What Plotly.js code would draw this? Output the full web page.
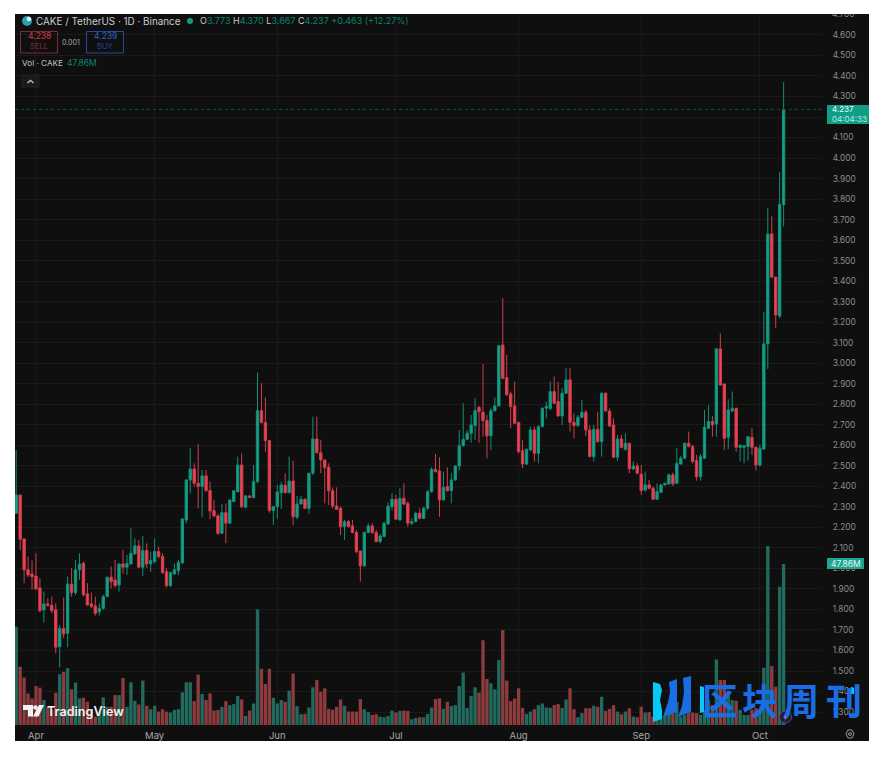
<!DOCTYPE html>
<html>
<head>
<meta charset="utf-8">
<script src="https://cdn.plot.ly/plotly-3.0.1.min.js"></script>
<style>
html,body{margin:0;padding:0;background:#fff;width:890px;height:760px;overflow:hidden}
#panel{position:absolute;left:15px;top:14px;width:854px;height:727px;overflow:hidden;background:#0f0f0f}
</style>
</head>
<body>
<div id="panel"></div>
<script>
const startDate = '2024-03-27';
const monthTicks = ['2024-04-01','2024-05-01','2024-06-01','2024-07-01','2024-08-01','2024-09-01','2024-10-01'];
const monthLabels = ['Apr','May','Jun','Jul','Aug','Sep','Oct'];
const priceTicks = [1.3,1.4,1.5,1.6,1.7,1.8,1.9,2.0,2.1,2.2,2.3,2.4,2.5,2.6,2.7,2.8,2.9,3.0,3.1,3.2,3.3,3.4,3.5,3.6,3.7,3.8,3.9,4.0,4.1,4.2,4.3,4.4,4.5,4.6,4.7];
const lastClose = 4.237;

const openP = [
2.269,2.358,2.144,1.993,1.973,1.963,1.905,1.798,1.827,1.820,
1.798,1.619,1.707,1.684,1.924,1.882,1.993,2.025,1.876,1.827,
1.817,1.789,1.806,1.863,1.957,1.944,1.919,2.022,2.006,2.022,
2.071,2.110,2.006,2.087,2.022,2.033,2.082,2.058,1.984,1.916,
1.973,1.989,2.028,2.236,2.431,2.485,2.415,2.399,2.451,2.379,
2.282,2.256,2.171,2.272,2.220,2.326,2.374,2.504,2.298,2.353,
2.345,2.423,2.769,2.711,2.623,2.282,2.301,2.369,2.405,2.369,
2.426,2.249,2.314,2.337,2.293,2.464,2.631,2.564,2.529,2.493,
2.378,2.304,2.293,2.204,2.228,2.207,2.175,2.085,2.012,2.175,
2.207,2.175,2.131,2.155,2.217,2.301,2.337,2.236,2.342,2.317,
2.220,2.228,2.269,2.244,2.293,2.374,2.483,2.475,2.334,2.399,
2.379,2.431,2.499,2.598,2.629,2.659,2.696,2.785,2.761,2.720,
2.646,2.769,2.792,3.089,2.930,2.850,2.792,2.711,2.573,2.509,
2.577,2.675,2.561,2.691,2.781,2.780,2.862,2.813,2.743,2.854,
2.919,2.712,2.696,2.737,2.761,2.675,2.545,2.678,2.618,2.854,
2.767,2.699,2.542,2.631,2.581,2.610,2.485,2.499,2.460,2.382,
2.407,2.391,2.337,2.371,2.407,2.412,2.456,2.415,2.509,2.537,
2.610,2.594,2.525,2.447,2.537,2.683,2.716,2.704,3.070,2.899,
2.639,2.767,2.780,2.590,2.590,2.594,2.639,2.590,2.504,2.582,
3.094,3.630,3.420,3.230,3.773];
const highP = [
2.577,2.358,2.147,2.058,2.038,2.074,1.952,1.887,1.855,1.863,
1.830,1.724,1.859,1.960,2.001,2.041,2.074,2.033,1.928,1.882,
1.863,1.830,1.871,1.960,2.009,2.041,2.025,2.090,2.066,2.196,
2.147,2.139,2.158,2.122,2.082,2.147,2.106,2.074,2.001,1.984,
2.025,2.041,2.244,2.434,2.586,2.512,2.605,2.480,2.480,2.423,
2.334,2.266,2.314,2.317,2.337,2.382,2.545,2.561,2.358,2.358,
2.504,2.954,2.902,2.834,2.626,2.306,2.407,2.423,2.464,2.545,
2.524,2.353,2.353,2.342,2.467,2.740,2.740,2.626,2.529,2.512,
2.395,2.395,2.301,2.236,2.236,2.236,2.188,2.085,2.179,2.220,
2.220,2.188,2.168,2.228,2.321,2.366,2.358,2.391,2.415,2.326,
2.244,2.277,2.293,2.301,2.382,2.493,2.558,2.542,2.472,2.493,
2.464,2.504,2.675,2.805,2.675,2.748,2.829,2.792,2.997,2.748,
2.781,2.834,3.089,3.317,3.040,2.862,2.911,2.716,2.626,2.584,
2.691,2.691,2.699,2.785,2.813,2.910,2.935,2.910,2.878,2.975,
2.975,2.756,2.748,2.821,2.772,2.699,2.699,2.764,2.857,2.857,
2.780,2.732,2.651,2.651,2.659,2.610,2.521,2.512,2.504,2.472,
2.431,2.399,2.415,2.412,2.418,2.464,2.467,2.586,2.548,2.613,
2.667,2.602,2.553,2.558,2.772,2.797,2.743,3.073,3.146,2.899,
2.824,2.862,2.784,2.605,2.602,2.646,2.683,2.594,2.602,3.250,
3.757,3.717,3.420,3.932,4.370];
const lowP = [
2.265,2.090,1.928,1.957,1.895,1.895,1.785,1.736,1.814,1.781,
1.586,1.518,1.660,1.616,1.863,1.871,1.944,1.863,1.819,1.806,
1.770,1.770,1.798,1.859,1.903,1.908,1.887,1.976,1.968,2.017,
2.066,2.001,1.963,2.001,1.984,2.025,2.049,1.973,1.908,1.911,
1.968,1.968,2.022,2.220,2.366,2.399,2.293,2.249,2.374,2.240,
2.249,2.163,2.168,2.123,2.217,2.326,2.371,2.293,2.293,2.342,
2.342,2.415,2.707,2.569,2.272,2.212,2.240,2.290,2.366,2.366,
2.212,2.240,2.313,2.288,2.266,2.456,2.561,2.464,2.317,2.309,
2.293,2.285,2.163,2.139,2.200,2.171,2.074,1.936,2.009,2.171,
2.168,2.127,2.123,2.152,2.212,2.282,2.236,2.233,2.309,2.204,
2.212,2.225,2.240,2.241,2.285,2.369,2.467,2.252,2.330,2.374,
2.317,2.428,2.477,2.594,2.626,2.613,2.626,2.613,2.642,2.537,
2.577,2.764,2.789,2.922,2.841,2.683,2.704,2.561,2.488,2.504,
2.574,2.521,2.512,2.688,2.732,2.772,2.802,2.740,2.699,2.850,
2.667,2.634,2.691,2.732,2.646,2.542,2.521,2.613,2.545,2.764,
2.691,2.537,2.524,2.586,2.574,2.464,2.480,2.460,2.358,2.374,
2.386,2.334,2.334,2.366,2.404,2.407,2.402,2.412,2.507,2.534,
2.590,2.512,2.428,2.428,2.534,2.680,2.642,2.642,2.891,2.577,
2.582,2.764,2.569,2.521,2.512,2.525,2.553,2.477,2.496,2.578,
2.972,3.416,3.172,3.220,3.667];
const closeP = [
2.358,2.142,1.993,1.968,1.960,1.900,1.794,1.827,1.819,1.794,
1.616,1.708,1.681,1.924,1.882,1.993,2.022,1.871,1.822,1.814,
1.781,1.806,1.863,1.957,1.936,1.916,2.022,2.006,2.025,2.074,
2.110,2.006,2.087,2.022,2.038,2.082,2.058,1.980,1.916,1.980,
1.993,2.030,2.241,2.431,2.485,2.415,2.399,2.451,2.379,2.280,
2.256,2.171,2.272,2.220,2.334,2.378,2.504,2.301,2.353,2.347,
2.423,2.769,2.711,2.623,2.282,2.301,2.373,2.407,2.369,2.426,
2.252,2.314,2.337,2.293,2.464,2.631,2.564,2.529,2.491,2.378,
2.304,2.288,2.204,2.228,2.204,2.175,2.082,2.012,2.175,2.207,
2.175,2.131,2.158,2.220,2.304,2.337,2.240,2.342,2.314,2.220,
2.228,2.269,2.244,2.293,2.374,2.483,2.472,2.334,2.395,2.379,
2.431,2.499,2.598,2.629,2.659,2.699,2.769,2.764,2.720,2.646,
2.769,2.792,3.086,2.927,2.846,2.789,2.707,2.569,2.509,2.581,
2.675,2.561,2.691,2.781,2.789,2.862,2.805,2.743,2.854,2.919,
2.712,2.696,2.737,2.761,2.675,2.545,2.678,2.618,2.854,2.767,
2.694,2.542,2.631,2.590,2.610,2.485,2.499,2.464,2.379,2.407,
2.391,2.337,2.374,2.407,2.415,2.456,2.412,2.512,2.537,2.610,
2.594,2.521,2.447,2.545,2.688,2.716,2.699,3.070,2.894,2.634,
2.772,2.780,2.590,2.600,2.598,2.642,2.590,2.504,2.586,3.094,
3.630,3.420,3.235,3.774,4.237];
const volumeM = [
29.2,17.3,14.1,9.4,7.9,11.6,11.1,7.4,5.4,4.5,
9.6,15.1,15.8,16.9,10.6,12.6,7.9,8.1,6.9,4.5,
2.5,4.0,8.2,5.4,5.4,8.9,8.9,14.0,5.4,12.7,
7.2,6.1,13.2,5.7,4.7,5.7,4.0,4.7,4.0,3.7,
4.5,4.7,9.7,12.7,12.7,7.1,15.0,9.2,7.4,9.4,
4.3,4.5,5.4,7.1,5.9,6.2,8.6,7.6,2.7,4.3,
6.4,34.4,16.7,12.2,16.7,8.1,6.4,7.4,6.9,10.2,
15.3,5.6,3.2,3.3,5.2,11.2,13.4,9.9,10.9,4.8,
4.5,5.4,7.6,5.7,4.0,4.0,4.0,7.7,4.7,3.8,
3.0,3.2,2.5,2.3,2.7,4.3,3.7,4.2,4.3,4.2,
1.7,2.1,2.3,2.3,3.3,5.2,7.7,7.9,4.8,6.9,
5.6,5.9,11.6,15.6,5.1,8.6,11.2,9.6,25.2,13.7,
12.4,10.6,19.3,28.2,13.2,7.1,7.9,10.9,5.1,3.3,
4.0,4.7,5.9,6.4,5.2,5.1,5.9,6.2,5.1,7.6,
10.9,4.7,2.3,3.5,5.0,5.0,5.7,5.4,8.4,4.2,
4.8,5.9,4.0,3.2,4.0,5.0,2.5,2.3,5.4,3.7,
3.8,2.5,2.5,2.5,2.7,3.5,3.5,6.9,2.5,3.0,
3.7,3.7,3.5,3.0,4.5,7.4,5.9,19.5,13.4,13.4,
8.9,7.4,7.2,4.5,3.0,3.0,4.5,5.0,3.5,17.0,
53.2,17.5,11.4,41.1,47.86];

const UP='#14a388', DOWN='#ee4354', UPW='#129079', DOWNW='#cf3f4e', VUP='#22695e', VDOWN='#8c3b3e';
const DAY=86400000;
const t0=Date.parse(startDate+'T00:00:00Z');
const dates=openP.map((_,i)=>new Date(t0+i*DAY).toISOString().slice(0,10));
const iso=t=>new Date(t).toISOString().replace('T',' ').slice(0,19);

const P={left:15,top:14,w:807,h:711};
const fx=x=>(x-P.left)/P.w, fy=y=>1-(y-P.top)/P.h;
const path=pts=>pts.map((p,i)=>(i?'L':'M')+fx(p[0]).toFixed(5)+','+fy(p[1]).toFixed(5)).join(' ')+' Z';
const rect=(x0,y0,x1,y1,fill,line,lw)=>({type:'rect',xref:'paper',yref:'paper',x0:fx(x0),x1:fx(x1),y0:fy(y0),y1:fy(y1),fillcolor:fill||'rgba(0,0,0,0)',line:{color:line||'rgba(0,0,0,0)',width:lw===undefined?1:lw},layer:'above'});
const poly=(pts,fill,line)=>({type:'path',xref:'paper',yref:'paper',path:path(pts),fillcolor:fill||'rgba(0,0,0,0)',line:{color:line||'rgba(0,0,0,0)',width:line?1:0},layer:'above'});
const circ=(cx,cy,r,fill,line)=>({type:'circle',xref:'paper',yref:'paper',x0:fx(cx-r),x1:fx(cx+r),y0:fy(cy-r),y1:fy(cy+r),fillcolor:fill||'rgba(0,0,0,0)',line:{color:line||'rgba(0,0,0,0)',width:line?1:0},layer:'above'});
const txt=(x,y,s,size,color,anchor,fam,extra)=>Object.assign({xref:'paper',yref:'paper',x:fx(x),y:fy(y),text:s,showarrow:false,xanchor:anchor||'left',yanchor:'middle',align:'left',borderpad:0,font:{family:fam||'Inter, sans-serif',size:size,color:color}},extra||{});

const dim='#0c8570';
const ohlcText=`<span style="color:#c8c8c8">O</span>3.773 <span style="color:#c8c8c8">H</span>4.370 <span style="color:#c8c8c8">L</span>3.667 <span style="color:#c8c8c8">C</span>4.237 +0.463 (+12.27%)`;
const wmFont={family:'"Noto Sans CJK SC"',size:36,color:'#1a6ee4',weight:700};

const annotations=[
 txt(34.5,21,'CAKE / TetherUS · 1D · Binance',9.9,'#c9ccd4'),
 txt(198.5,21,ohlcText,9,dim),
 txt(39,36.5,'4.238',8.5,'#d23a48','center'),
 txt(39,47,'SELL',7.5,'#8a2f38','center'),
 txt(71,42,'0.001',7,'#a8a8a8','center'),
 txt(105,36.5,'4.239',8.5,'#2f63c8','center'),
 txt(105,47,'BUY',7.5,'#234a96','center'),
 txt(20.5,63,'Vol · CAKE',8.2,'#c0c0c0'),
 txt(65.5,63,'47.86M',8.5,'#0c8570'),
 txt(45.5,711,'TradingView',12.6,'#f2f2f2','left','Inter, sans-serif',{font:{family:'Inter, sans-serif',size:12.6,color:'#f2f2f2',weight:600}}),
 txt(830.5,114.5,'4.237<br><span style="color:#b7ece1">04:04:33</span>',8,'#eafff9'),
 txt(846,564,'47.86M',8.5,'#e3fbf6','center'),
 txt(831,14,'4.700',8.4,'#8c8c8c'),
 txt(720,699,'区',36,'#1a6ee4','center',null,{font:wmFont}),
 txt(760,699,'块',36,'#1a6ee4','center',null,{font:wmFont}),
 txt(801,699,'周',36,'#1a6ee4','center',null,{font:wmFont}),
 txt(844,699,'刊',36,'#1a6ee4','center',null,{font:wmFont}),
];

const shapes=[
 {type:'line',xref:'paper',yref:'y2',x0:0,x1:1,y0:lastClose,y1:lastClose,line:{color:'#0a5547',width:1,dash:'dot'},layer:'above'},
 circ(27,21,5,'#2aa0a8'),
 circ(29,19,2.3,'#d9f2ef'),
 circ(190,21,3,'#0f9d84'),
 rect(20.5,31.5,57.5,53,'rgba(0,0,0,0)','#7e2b33'),
 rect(86.5,31.5,123.5,53,'rgba(0,0,0,0)','#274a96'),
 rect(22,75,39,87,'#1b1b1b','#232323'),
 poly([[27,82.5],[30.5,79.5],[34,82.5],[33,83.5],[30.5,81.3],[28,83.5]],'#bdbdbd'),
 rect(827,105,869,124,'#119e86'),
 rect(827,558,864,569,'#1fa58f'),
 // TradingView mark
 poly([[23,705],[33,705],[33,716.5],[28,716.5],[28,710],[23,710]],'#f2f2f2'),
 circ(35.5,707.5,2.3,'#f2f2f2'),
 poly([[39,705],[44,705],[38.5,716.5],[33,716.5]],'#f2f2f2'),
 // blue logo
 poly([[653,682],[660,684],[662,690],[660,700],[662,710],[662,719],[653,722]],'#08c8f5'),
 poly([[669,682],[677,679],[677,712],[663,717],[668,702],[670,692]],'#1a6ee4'),
 poly([[683,678],[691,676],[691,712],[678,717],[682,706],[684,692]],'#1a6ee4'),
 poly([[700,686],[704,687],[704,712],[700,713]],'#08c8f5'),
 rect(850,688,854,694,'#08c8f5'),
 // flash badge
 circ(785.5,717,6,'#241a2d','#67407f'),
 poly([[787,712.5],[783,718],[785.2,718],[784,721.5],[788,716],[785.8,716]],'#b06fd0'),
 // settings
 poly([[846,734],[848,730],[852,730],[854,734],[852,738],[848,738]],null,'#9a9a9a'),
 circ(850,734,1.4,null,'#9a9a9a'),
];

const data=[
 {type:'bar',x:dates,y:volumeM,yaxis:'y',xaxis:'x',width:DAY*0.85,
  marker:{color:openP.map((o,i)=>closeP[i]>=o?VUP:VDOWN),line:{width:0}},hoverinfo:'skip',showlegend:false},
 {type:'candlestick',x:dates,open:openP,high:highP,low:lowP,close:closeP,yaxis:'y2',xaxis:'x',
  increasing:{line:{color:UPW,width:1},fillcolor:UP},decreasing:{line:{color:DOWNW,width:1},fillcolor:DOWN},
  whiskerwidth:0,hoverinfo:'skip',showlegend:false}
];

const xStart=t0-0.303*DAY, xEnd=t0+203.7*DAY;
const layout={
 width:854,height:727,
 margin:{l:0,r:47,t:0,b:16,pad:0},
 paper_bgcolor:'#0f0f0f',plot_bgcolor:'#0f0f0f',
 showlegend:false,hovermode:false,boxgap:0.15,bargap:0.2,
 xaxis:{type:'date',range:[iso(xStart),iso(xEnd)],rangeslider:{visible:false},
  tickmode:'array',tickvals:monthTicks,ticktext:monthLabels,
  ticks:'outside',ticklen:2,tickcolor:'rgba(0,0,0,0)',
  tickfont:{family:'Inter, sans-serif',size:9.5,color:'#a9a9a9'},
  showgrid:true,gridcolor:'#191919',gridwidth:1,zeroline:false,showline:false},
 yaxis:{range:[0,211.4],visible:false,fixedrange:true,showgrid:false,zeroline:false},
 yaxis2:{overlaying:'y',side:'right',range:[1.2369,4.7021],
  tickmode:'array',tickvals:priceTicks,tickformat:'.3f',
  ticks:'outside',ticklen:8,tickcolor:'rgba(0,0,0,0)',
  tickfont:{family:'Inter, sans-serif',size:8.4,color:'#8c8c8c'},
  showgrid:true,gridcolor:'#1a1a1a',gridwidth:1,zeroline:false,showline:false},
 shapes:shapes,annotations:annotations
};
Plotly.newPlot('panel',data,layout,{staticPlot:true,displayModeBar:false});
</script>
</body>
</html>
